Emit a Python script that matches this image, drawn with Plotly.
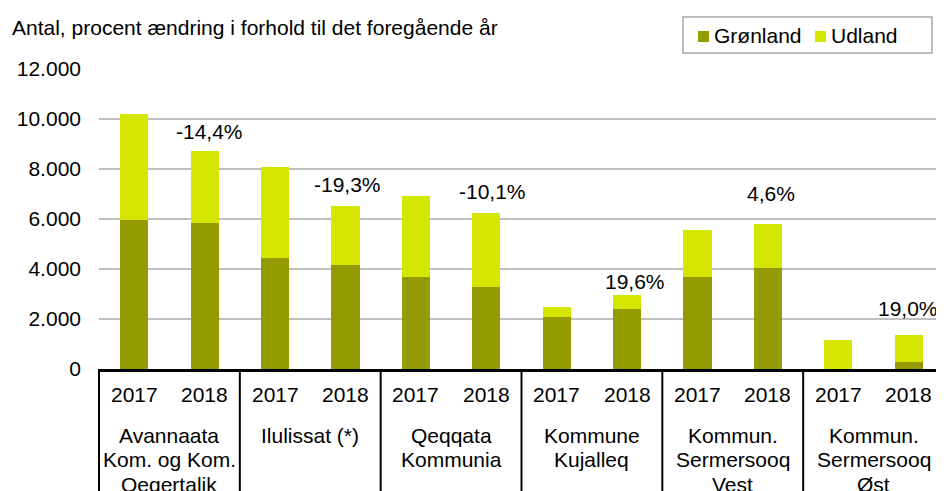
import plotly.graph_objects as go

groups = [["Avannaata", "Kom. og Kom.", "Qeqertalik"], ["Ilulissat (*)"], ["Qeqqata", "Kommunia"],
          ["Kommune", "Kujalleq"], ["Kommun.", "Sermersooq", "Vest"], ["Kommun.", "Sermersooq", "Øst"]]
years = ["2017", "2018"]
gronland = [5960, 5830, 4450, 4170, 3670, 3290, 2080, 2410, 3690, 4040, 10, 280]
udland = [4240, 2900, 3630, 2350, 3250, 2940, 410, 560, 1860, 1760, 1140, 1080]
change_labels = ["", "-14,4%", "", "-19,3%", "", "-10,1%", "", "19,6%", "", "4,6%", "", "19,0%"]
ytick_vals = [0, 2000, 4000, 6000, 8000, 10000, 12000]
ytick_text = ["0", "2.000", "4.000", "6.000", "8.000", "10.000", "12.000"]
series_names = ["Grønland", "Udland"]
title_text = "Antal, procent ændring i forhold til det foregående år"

# style: per-label placement offsets (pixels) for the change labels
label_dx = [0, 4.5, 0, 2.5, 0, 6, 0, 7.5, 0, 3, 0, -1]
label_dy = [0, 6, 0, 8, 0, 8, 0, 0, 0, 17, 0, 13]

FONT = "Liberation Sans, Arial, sans-serif"
FS = 21
C_GR = "#949B00"
C_UD = "#D4E600"
colors = [C_GR, C_UD]

# page is offset by the 8px body margin
PL, PT, PW, PH = 99, 69, 845, 300


def px(p):
    return (p - PL) / PW


def py(p):
    return (PT + PH - p) / PH


n = len(gronland)
xs = list(range(n))

fig = go.Figure()
fig.add_bar(x=xs, y=gronland, name=series_names[0], marker=dict(color=C_GR, line=dict(width=0)))
fig.add_bar(x=xs, y=udland, name=series_names[1], marker=dict(color=C_UD, line=dict(width=0)))

totals = [g + u for g, u in zip(gronland, udland)]
for i, lab in enumerate(change_labels):
    if lab:
        fig.add_annotation(x=i, y=totals[i], text=lab, showarrow=False, xref="x", yref="y",
                           yanchor="bottom", yshift=label_dy[i], xshift=label_dx[i],
                           font=dict(family=FONT, size=FS, color="#000000"))

# year labels
for i in xs:
    fig.add_annotation(x=i, y=py(394), xref="x", yref="paper", text=years[i % 2], showarrow=False,
                       yanchor="middle", font=dict(family=FONT, size=FS, color="#000000"))
# group labels (one annotation per line)
line_y = [435, 459.5, 484]
for g, lines in enumerate(groups):
    for k, ln in enumerate(lines):
        fig.add_annotation(x=2 * g + 0.5, y=py(line_y[k]), xref="x", yref="paper", text=ln,
                           showarrow=False, yanchor="middle", align="center",
                           font=dict(family=FONT, size=FS, color="#000000"))
# dividers
for g in range(len(groups) + 1):
    fig.add_shape(type="line", xref="paper", yref="paper", x0=g / len(groups), x1=g / len(groups),
                  y0=0, y1=py(495), line=dict(color="#000000", width=2), layer="above")

# title
fig.add_annotation(x=px(10), y=py(28), xref="paper", yref="paper", text=title_text,
                   showarrow=False, xanchor="left", yanchor="middle",
                   font=dict(family=FONT, size=FS, color="#000000"))

# manual legend
fig.add_shape(type="rect", xref="paper", yref="paper", x0=px(683), x1=px(932), y0=py(17), y1=py(53),
              line=dict(color="#A6A6A6", width=1.5), fillcolor="white")
sq_x = [698, 815]
for k in range(2):
    fig.add_shape(type="rect", xref="paper", yref="paper", x0=px(sq_x[k]), x1=px(sq_x[k] + 11),
                  y0=py(31), y1=py(42), line=dict(width=0), fillcolor=colors[k])
    fig.add_annotation(x=px(sq_x[k] + 14), y=py(36), xref="paper", yref="paper", text=series_names[k],
                       showarrow=False, xanchor="left", yanchor="middle",
                       font=dict(family=FONT, size=FS, color="#000000"))

fig.update_layout(
    width=936, height=483,
    margin=dict(l=91, r=0, t=61, b=122),
    barmode="stack", bargap=0.6,
    plot_bgcolor="white", paper_bgcolor="white",
    font=dict(family=FONT, size=FS, color="#000000"),
    showlegend=False,
    xaxis=dict(range=[-0.5, n - 0.5], showticklabels=False, showgrid=False, zeroline=False,
               showline=True, linecolor="#000000", linewidth=2.5, ticks=""),
    yaxis=dict(range=[0, 12000], tickvals=ytick_vals, ticktext=ytick_text, showgrid=True,
               gridcolor="#BFBFBF", gridwidth=2, zeroline=False, showline=False, ticks="",
               ticklabelstandoff=17, tickfont=dict(family=FONT, size=FS, color="#000000")),
)

fig.write_html("out.html")
